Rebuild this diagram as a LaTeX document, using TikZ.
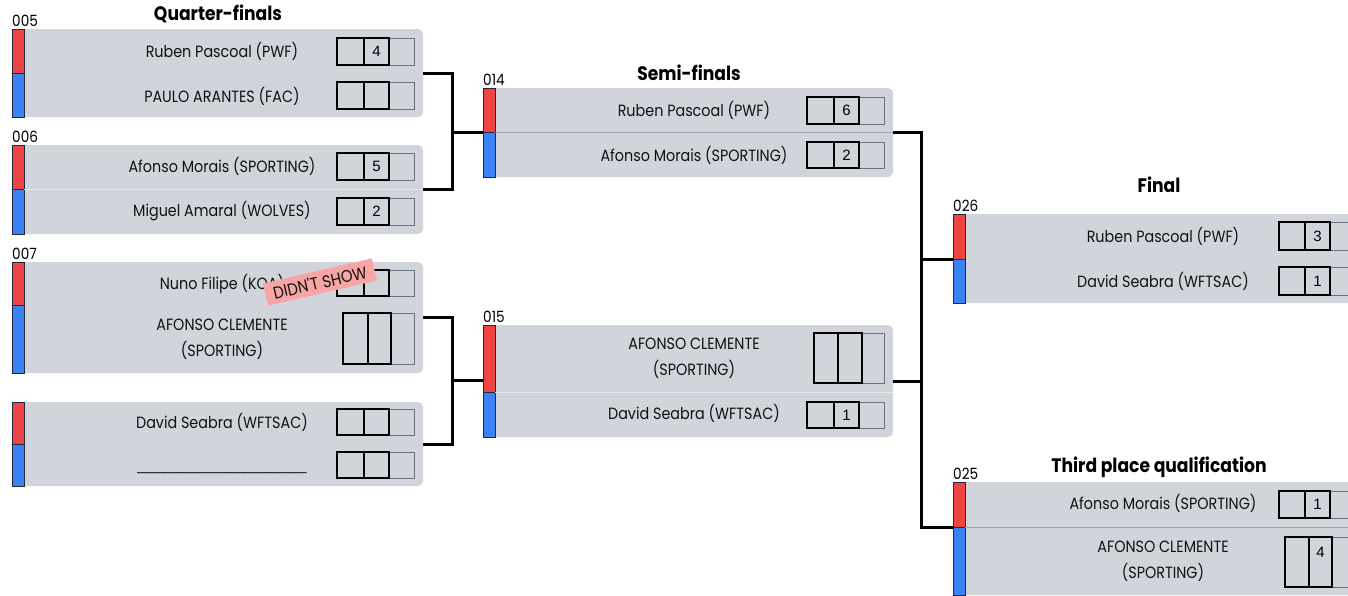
\documentclass[tikz,border=0pt]{standalone}
\usepackage{fontspec}
\setmainfont{Poppins}[FakeStretch=0.88]
\newfontfamily\scorefont{Liberation Sans}
\usetikzlibrary{calc}
\definecolor{boxgray}{HTML}{D1D5DB}
\definecolor{stripred}{HTML}{EF4444}
\definecolor{stripblue}{HTML}{3B82F6}
\definecolor{stripline}{HTML}{1F2937}
\definecolor{divlight}{HTML}{E5E7EB}
\definecolor{divdark}{HTML}{9CA3AF}
\definecolor{celllight}{HTML}{6B7280}
\definecolor{pinklabel}{HTML}{F8A5A5}
\definecolor{txt}{HTML}{111111}
\newcounter{scn}
\tikzset{
  matchbox/.style={fill=boxgray, draw=none, rounded corners=5pt, inner sep=0pt, outer sep=0pt},
  redstrip/.style={fill=stripred, draw=stripline, line width=0.8pt, inner sep=0pt, outer sep=0pt},
  bluestrip/.style={fill=stripblue, draw=stripline, line width=0.8pt, inner sep=0pt, outer sep=0pt},
  cellthick/.style={draw=black, line width=1.8pt},
  cellthin/.style={draw=celllight, line width=0.8pt},
  scoretxt/.style={font=\scorefont\fontsize{15}{18}\selectfont, text=black, inner sep=0pt},
  nametxt/.style={font=\fontsize{16.3}{26}\selectfont, text=txt, align=center, inner sep=0pt},
  idlabel/.style={font=\fontsize{15.5}{18}\selectfont, text=black, inner sep=0pt, anchor=base west},
  roundtitle/.style={font=\bfseries\fontsize{19.5}{23}\selectfont, text=black, inner sep=0pt},
  conn/.style={draw=black, line width=3pt, line join=miter},
  divl/.style={draw=divlight, line width=1pt},
  divd/.style={draw=divdark, line width=1pt},
  didnt/.style={fill=pinklabel, text=txt, font=\fontsize{17}{20}\selectfont, inner xsep=8pt, inner ysep=4.5pt, rotate=13},
}
% #1 id, #2 strip left x, #3 top y, #4 split y, #5 bottom y, #6 right x
\newcommand\matchframe[6]{%
  \node[matchbox, anchor=north west, minimum width={#6-#2-6}, minimum height={#5-#3}] (m#1) at (#2+6,#3) {};
  \node[redstrip, anchor=north west, minimum width=12, minimum height={#4-#3}] (r#1) at (#2,#3) {};
  \node[bluestrip, anchor=north west, minimum width=12, minimum height={#5-#4}] (b#1) at (#2,#4) {};
}
% #1 x, #2 top y, #3 height, #4 w1, #5 w2, #6 w3, #7 score
\newcommand\scorerow[7]{%
  \stepcounter{scn}%
  \draw[cellthin] (#1+#4+#5,#2) rectangle ++(#6,#3);
  \draw[cellthick] (#1,#2) rectangle ++(#4,#3);
  \draw[cellthick] (#1+#4,#2) rectangle ++(#5,#3);
  \node[scoretxt] (sc\thescn) at (#1+#4+#5/2,#2+#3/2) {#7};
}
\begin{document}
\begin{tikzpicture}[x=1pt,y=-1pt]
\useasboundingbox (0,0) rectangle (1348,595);
\clip (0,0) rectangle (1348,595);

% titles
\node[roundtitle] (tqf) at (218,14) {Quarter-finals};
\node[roundtitle] (tsf) at (689,73) {Semi-finals};
\node[roundtitle] (tf) at (1159,185) {Final};
\node[roundtitle] (ttp) at (1159,467) {Third place qualification};

% frames
\matchframe{005}{12}{29}{73}{117}{423}
\matchframe{006}{12}{145}{189}{234}{423}
\matchframe{007}{12}{262}{305}{373}{423}
\matchframe{008}{12}{402}{444}{486}{423}
\matchframe{014}{483}{88}{132}{177}{893}
\matchframe{015}{483}{325}{392}{437}{893}
\matchframe{026}{953}{214}{259}{303}{1363}
\matchframe{025}{953}{482}{527}{595}{1363}

% dividers
\draw[divl] (b006.north east) -- (m006.east |- b006.north);
\draw[divl] (b015.north east) -- (m015.east |- b015.north);
\draw[divd] (b014.north east) -- (m014.east |- b014.north);
\draw[divd] (b025.north east) -- (m025.east |- b025.north);

% match ids
\node[idlabel] (l005) at ($(r005.north west)+(0,-3)$) {005};
\node[idlabel] (l006) at ($(r006.north west)+(0,-3)$) {006};
\node[idlabel] (l007) at ($(r007.north west)+(0,-3)$) {007};
\node[idlabel] (l014) at ($(r014.north west)+(0,-3)$) {014};
\node[idlabel] (l015) at ($(r015.north west)+(0,-3)$) {015};
\node[idlabel] (l026) at ($(r026.north west)+(0,-3)$) {026};
\node[idlabel] (l025) at ($(r025.north west)+(0,-3)$) {025};

% names
\node[nametxt] (n005a) at (222,51) {Ruben Pascoal (PWF)};
\node[nametxt] (n005b) at (222,96) {PAULO ARANTES (FAC)};
\node[nametxt] (n006a) at (222,166) {Afonso Morais (SPORTING)};
\node[nametxt] (n006b) at (222,211) {Miguel Amaral (WOLVES)};
\node[nametxt] (n007a) at (222,284) {Nuno Filipe (KOA)};
\node[nametxt] (n007b) at (222,339) {AFONSO CLEMENTE\\(SPORTING)};
\node[nametxt] (n008a) at (222,422) {David Seabra (WFTSAC)};
\node[nametxt, font=\scorefont\fontsize{16}{20}\selectfont, anchor=base] (n008b) at (222,470) {\_\_\_\_\_\_\_\_\_\_\_\_\_\_\_\_\_\_\_};
\node[nametxt] (n014a) at (694,110) {Ruben Pascoal (PWF)};
\node[nametxt] (n014b) at (694,155) {Afonso Morais (SPORTING)};
\node[nametxt] (n015a) at (694,358) {AFONSO CLEMENTE\\(SPORTING)};
\node[nametxt] (n015b) at (694,413) {David Seabra (WFTSAC)};
\node[nametxt] (n026a) at (1163,236) {Ruben Pascoal (PWF)};
\node[nametxt] (n026b) at (1163,281) {David Seabra (WFTSAC)};
\node[nametxt] (n025a) at (1163,503) {Afonso Morais (SPORTING)};
\node[nametxt] (n025b) at (1163,561) {AFONSO CLEMENTE\\(SPORTING)};

% scores
\scorerow{337}{38}{27}{27}{25}{25}{4}
\scorerow{337}{82}{27}{27}{25}{25}{}
\scorerow{337}{153}{27}{27}{25}{25}{5}
\scorerow{337}{198}{27}{27}{25}{25}{2}
\scorerow{337}{270}{26}{27}{25}{25}{}
\scorerow{343}{313}{51}{25}{23}{23}{}
\scorerow{337}{409}{26}{27}{25}{25}{}
\scorerow{337}{452}{26}{27}{25}{25}{}
\scorerow{807}{97}{27}{27}{25}{25}{6}
\scorerow{807}{142}{26}{27}{25}{25}{2}
\scorerow{814}{333}{50}{24}{24}{22}{}
\scorerow{807}{402}{26}{27}{25}{25}{1}
\scorerow{1279}{222}{28}{26}{25}{25}{3}
\scorerow{1279}{267}{28}{26}{25}{25}{1}
\scorerow{1279}{491}{27}{26}{25}{25}{1}
\scorerow{1285}{537}{50}{24}{23}{23}{}
\node[scoretxt] (sc4top) at (1320.5,552) {4};

% didn't show tag
\node[didnt] (dns) at (320,282) {DIDN\textquotesingle T SHOW};

% connectors
\coordinate (j1) at (452,132);
\coordinate (j2) at (452,380);
\coordinate (k1) at (921,259);
\coordinate (k2) at (921,527);
\draw[conn] (m005.east) -| (j1) |- (m006.east);
\draw[conn] (j1) -- (r014.south west);
\draw[conn] (m007.east) -| (j2) |- (m008.east);
\draw[conn] (j2) -- (j2 -| r015.west);
\draw[conn] (m014.east) -| (k1) -- (r026.south west);
\draw[conn] (m015.east) -| (k2) -- (r025.south west);
\draw[conn] (k1) -- (k2);
\end{tikzpicture}
\end{document}
